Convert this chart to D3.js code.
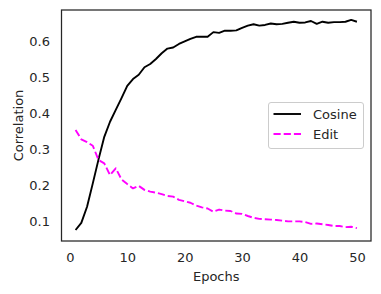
<!DOCTYPE html>
<html>
<head>
<meta charset="utf-8">
<script src="https://cdn.jsdelivr.net/npm/d3@7/dist/d3.min.js"></script>
<style>
  html, body { margin: 0; padding: 0; background: #fff; }
  svg { display: block; font-family: "DejaVu Sans", sans-serif; }
</style>
</head>
<body>
<svg id="chart" width="381" height="294"></svg>
<script>
const epochs = d3.range(1, 51);
const cosine = [0.075, 0.095, 0.14, 0.205, 0.272, 0.335, 0.377, 0.41, 0.443, 0.477,
                0.496, 0.508, 0.529, 0.538, 0.552, 0.568, 0.581, 0.584, 0.594, 0.601,
                0.608, 0.614, 0.614, 0.614, 0.627, 0.625, 0.631, 0.631, 0.632, 0.639,
                0.645, 0.649, 0.645, 0.647, 0.651, 0.649, 0.650, 0.653, 0.656, 0.653,
                0.654, 0.658, 0.650, 0.656, 0.653, 0.655, 0.655, 0.656, 0.661, 0.656];
const edit = [0.354, 0.328, 0.320, 0.310, 0.270, 0.261, 0.228, 0.247, 0.216, 0.203,
              0.191, 0.198, 0.187, 0.182, 0.179, 0.175, 0.170, 0.168, 0.159, 0.155,
              0.151, 0.143, 0.138, 0.135, 0.126, 0.132, 0.129, 0.128, 0.121, 0.120,
              0.114, 0.109, 0.106, 0.105, 0.104, 0.103, 0.101, 0.099, 0.099, 0.099,
              0.097, 0.092, 0.093, 0.091, 0.089, 0.086, 0.086, 0.083, 0.084, 0.080];
const xTicks = [0, 10, 20, 30, 40, 50];
const yTicks = [0.1, 0.2, 0.3, 0.4, 0.5, 0.6];
const seriesNames = ["Cosine", "Edit"];
const seriesColors = ["#000000", "#ff00ff"];

const svg = d3.select("#chart");
const L = 61.5, R = 371, T = 10, B = 241;
const textColor = "#262626";
const fs = "13px";
const dash = "7.2,3";

const x = d3.scaleLinear().domain([-1.45, 52.45]).range([L, R]);
const y = d3.scaleLinear().domain([0.0443, 0.6887]).range([B, T]);

// lines
const line = d3.line().x((d, i) => x(epochs[i])).y(d => y(d));
const series = [cosine, edit];
series.forEach((s, k) => {
  svg.append("path")
    .datum(s)
    .attr("d", line)
    .attr("fill", "none")
    .attr("stroke", seriesColors[k])
    .attr("stroke-width", 1.9)
    .attr("stroke-linejoin", "round")
    .attr("stroke-dasharray", k === 1 ? dash : null);
});

// frame
svg.append("rect")
  .attr("x", L).attr("y", T).attr("width", R - L).attr("height", B - T)
  .attr("fill", "none").attr("stroke", textColor).attr("stroke-width", 1.25);

// x axis
const xAxis = d3.axisBottom(x).tickValues(xTicks).tickSize(0).tickPadding(11.8).tickFormat(d3.format("d"));
const gx = svg.append("g").attr("transform", `translate(0,${B})`).call(xAxis);
gx.select(".domain").remove();
gx.selectAll("text").attr("fill", textColor).style("font-size", fs).style("font-family", "DejaVu Sans");

// y axis
const yAxis = d3.axisLeft(y).tickValues(yTicks).tickSize(0).tickPadding(11.5).tickFormat(d3.format(".1f"));
const gy = svg.append("g").attr("transform", `translate(${L},0)`).call(yAxis);
gy.select(".domain").remove();
gy.selectAll("text").attr("fill", textColor).style("font-size", fs).style("font-family", "DejaVu Sans");

// axis labels
svg.append("text")
  .attr("x", (L + R) / 2).attr("y", 281)
  .attr("text-anchor", "middle").attr("fill", textColor)
  .style("font-size", fs).text("Epochs");
svg.append("text")
  .attr("transform", `translate(22.5,${(T + B) / 2}) rotate(-90)`)
  .attr("text-anchor", "middle").attr("fill", textColor)
  .style("font-size", fs).text("Correlation");

// legend
const lg = svg.append("g");
lg.append("rect")
  .attr("x", 268.5).attr("y", 102.5).attr("width", 95).attr("height", 46)
  .attr("rx", 2.5).attr("ry", 2.5)
  .attr("fill", "#ffffff").attr("fill-opacity", 0.8)
  .attr("stroke", "#cccccc").attr("stroke-width", 1);
seriesNames.forEach((name, k) => {
  const yy = 114 + k * 20;
  lg.append("line")
    .attr("x1", 273.5).attr("x2", 301).attr("y1", yy).attr("y2", yy)
    .attr("stroke", seriesColors[k]).attr("stroke-width", 1.9)
    .attr("stroke-dasharray", k === 1 ? dash : null);
  lg.append("text")
    .attr("x", 313).attr("y", yy + 4.7)
    .attr("fill", textColor).style("font-size", fs).text(name);
});
</script>
</body>
</html>
